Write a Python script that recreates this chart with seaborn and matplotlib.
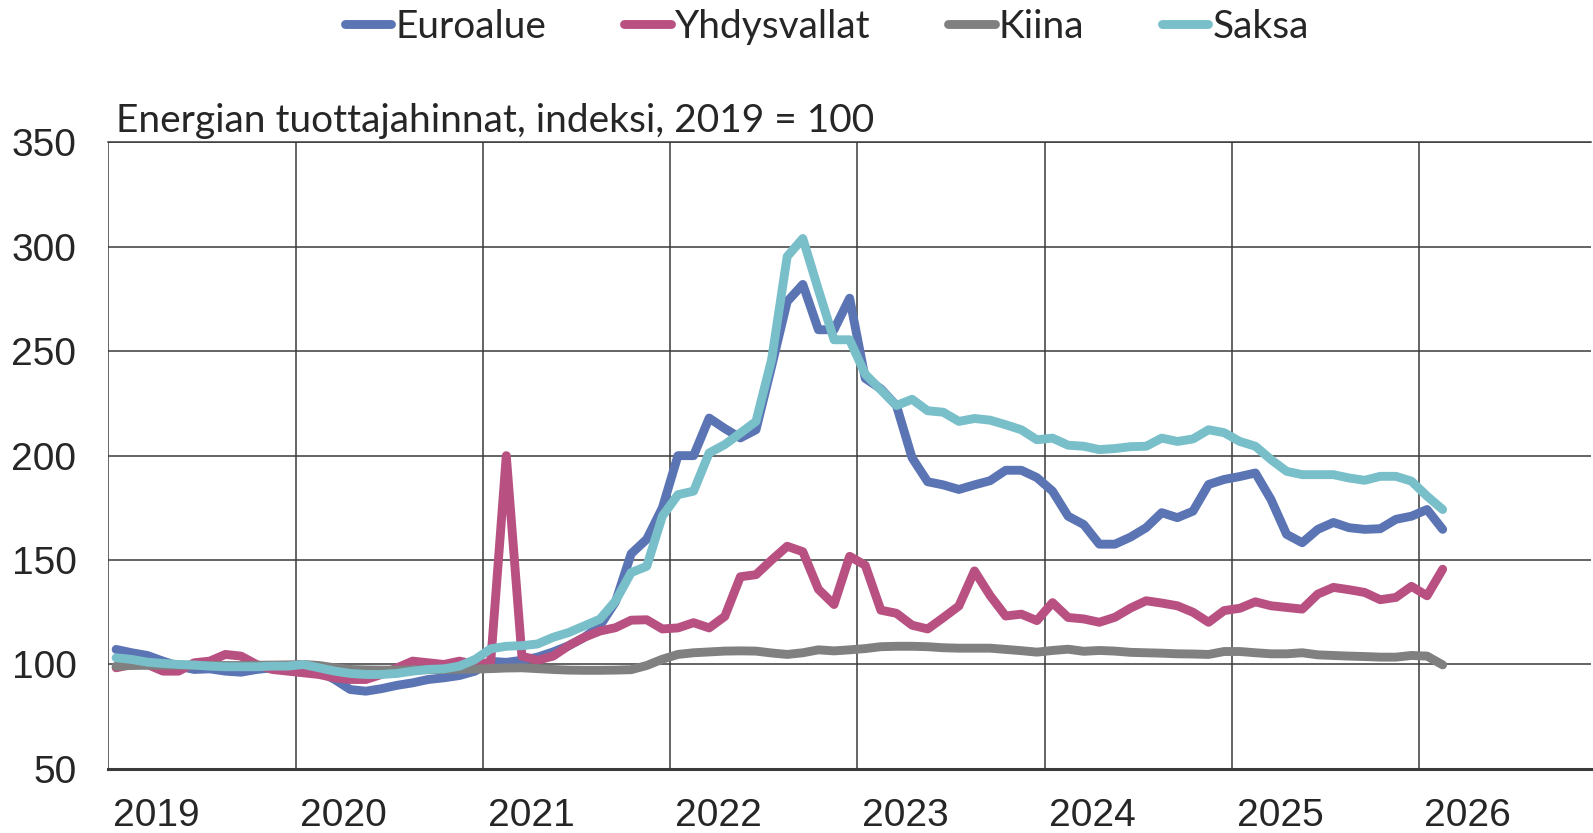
import numpy as np
import pandas as pd
import matplotlib.pyplot as plt
import seaborn as sns
from matplotlib.ticker import MultipleLocator

# kuukausittaiset indeksit, tammi 2019 - helmi 2026
euroalue = [107.2, 105.6, 104.3, 101.6, 99.2, 97.6, 97.9, 96.8, 96.3, 97.6, 98.4, 98.4,
            98.4, 96.8, 92.8, 88.0, 87.2, 88.4, 90.0, 91.2, 92.8, 93.6, 94.7, 96.8,
            101.5, 101.0, 102.0, 103.5, 106.0, 109.0, 113.0, 118.5, 130.0, 153.0, 160.0, 175.0,
            200.0, 200.0, 218.0, 213.0, 208.5, 212.4, 242.7, 273.8, 282.0, 260.3, 260.3, 275.4,
            237.0, 232.0, 224.0, 199.0, 187.5, 186.0, 183.8, 186.0, 188.0, 193.0, 193.0, 189.5,
            183.0, 171.0, 167.0, 157.6, 157.6, 161.0, 165.5, 172.7, 170.3, 173.4, 186.2, 188.6,
            190.0, 191.7, 179.0, 162.3, 158.3, 164.7, 168.0, 165.5, 164.7, 165.0, 169.5, 171.0,
            174.2, 164.7]
yhdysvallat = [98.4, 100.0, 100.0, 96.8, 96.8, 100.8, 101.6, 104.8, 104.0, 100.0, 97.6, 96.8,
               96.0, 95.2, 93.6, 92.8, 92.8, 95.2, 98.4, 101.6, 100.8, 100.0, 101.6, 100.0,
               101.0, 200.0, 104.0, 102.0, 104.0, 109.0, 113.0, 116.0, 117.6, 121.2, 121.4, 117.0,
               117.5, 120.0, 117.5, 123.0, 142.0, 143.0, 150.0, 156.6, 154.0, 136.0, 128.7, 151.8,
               147.5, 126.0, 124.5, 118.8, 117.0, 122.4, 128.0, 144.8, 133.0, 123.2, 124.1, 121.0,
               129.6, 122.5, 121.8, 120.2, 122.6, 127.0, 130.5, 129.4, 128.1, 125.0, 120.2, 125.8,
               126.9, 130.0, 128.1, 127.3, 126.5, 133.7, 136.9, 135.8, 134.5, 131.0, 132.1, 137.4,
               132.9, 145.6]
kiina = [99.2, 99.5, 99.6, 99.7, 99.7, 99.6, 99.5, 99.5, 99.5, 99.6, 99.7, 99.8,
         100.0, 99.5, 98.4, 97.6, 97.4, 97.3, 97.3, 97.4, 97.5, 97.6, 97.7, 97.8,
         98.0, 98.3, 98.4, 98.0, 97.6, 97.3, 97.2, 97.2, 97.3, 97.5, 99.5, 102.5,
         104.8, 105.6, 106.0, 106.4, 106.5, 106.4, 105.5, 104.8, 105.6, 107.0, 106.5, 107.0,
         107.6, 108.5, 108.7, 108.7, 108.5, 108.0, 107.8, 107.8, 107.8, 107.2, 106.6, 105.9,
         106.7, 107.3, 106.3, 106.7, 106.4, 105.8, 105.6, 105.4, 105.1, 105.0, 104.8, 106.2,
         106.2, 105.6, 105.1, 105.1, 105.6, 104.6, 104.3, 104.0, 103.8, 103.5, 103.5, 104.3,
         104.0, 99.8]
saksa = [103.2, 102.4, 101.1, 100.5, 100.0, 99.7, 99.2, 98.9, 98.9, 98.9, 99.2, 99.2,
         100.0, 98.4, 96.8, 95.7, 95.2, 95.2, 95.7, 96.8, 97.6, 97.9, 99.2, 102.4,
         107.5, 108.7, 109.0, 109.8, 113.0, 115.3, 118.5, 121.7, 130.4, 144.0, 147.0, 171.0,
         181.3, 183.0, 201.3, 205.3, 210.8, 216.4, 246.0, 295.4, 304.0, 279.4, 255.5, 255.5,
         239.0, 231.5, 224.0, 227.0, 221.5, 220.8, 216.4, 217.8, 217.0, 214.8, 212.4, 207.6,
         208.4, 205.0, 204.5, 202.9, 203.4, 204.3, 204.5, 208.4, 206.8, 208.0, 212.4, 211.0,
         206.8, 204.5, 198.1, 192.5, 190.9, 190.9, 190.9, 189.3, 188.2, 190.1, 190.1, 187.8,
         180.6, 174.2]

sarjat = ["Euroalue", "Yhdysvallat", "Kiina", "Saksa"]
varit = ["#5b74b4", "#b85181", "#808080", "#78bfc9"]
vuodet = [2019, 2020, 2021, 2022, 2023, 2024, 2025, 2026]
otsikko = "Energian tuottajahinnat, indeksi, 2019 = 100"

n = len(euroalue)
kk = np.arange(n) + 0.5  # piste kuukauden keskelle
df = pd.DataFrame({
    "kk": np.tile(kk, 4),
    "arvo": euroalue + yhdysvallat + kiina + saksa,
    "sarja": np.repeat(sarjat, n),
})

sns.set_style("white")
plt.rcParams["font.family"] = ["Liberation Sans", "DejaVu Sans"]
otsikkofontti = ["Lato", "DejaVu Sans"]

fig = plt.figure(figsize=(15.93, 8.33), dpi=100)
ax = fig.add_axes([0.068, 0.077, 0.9307, 0.752])

sns.lineplot(data=df, x="kk", y="arvo", hue="sarja", palette=varit, hue_order=sarjat,
             lw=6.4, ax=ax, legend=False, sort=False)
for l in ax.get_lines():
    l.set_solid_capstyle("round")
    l.set_solid_joinstyle("round")

ax.set_xlim(0, 95)
ax.set_ylim(50, 350)
ax.set_yticks(range(50, 351, 50))
ax.set_xticks([(v - 2019) * 12 for v in vuodet])
ax.set_xticklabels([])
ax.xaxis.set_minor_locator(MultipleLocator(1))
ax.grid(True, which="major", color="#3a3a3a", lw=1.1)
ax.tick_params(axis="x", which="major", length=0)
ax.tick_params(axis="x", which="minor", direction="in", length=7, width=1, color="#555555")
ax.tick_params(axis="y", length=0, labelsize=28, pad=23)
ax.set_xlabel("")
ax.set_ylabel("")
for s in ["left", "right"]:
    ax.spines[s].set_visible(False)
ax.spines["top"].set_color("#3a3a3a")
ax.spines["top"].set_linewidth(1.1)
ax.spines["bottom"].set_color("#3a3a3a")
ax.spines["bottom"].set_linewidth(2.2)

for v in vuodet:
    ax.text((v - 2019) * 12 + 0.3, -0.075, str(v), transform=ax.get_xaxis_transform(),
            ha="left", va="center", fontsize=28)

ax.text(0.005, 1.016, otsikko, transform=ax.transAxes, ha="left", va="baseline",
        fontsize=28, family=otsikkofontti)

kahvat = ax.get_lines()[:4]
fig.legend(kahvat, sarjat, loc="center", bbox_to_anchor=(0.519, 0.968), ncol=4,
           frameon=False, handlelength=1.2, handletextpad=0.1, columnspacing=2.0,
           prop={"family": otsikkofontti, "size": 28})

fig.savefig("out.png", dpi=100)
